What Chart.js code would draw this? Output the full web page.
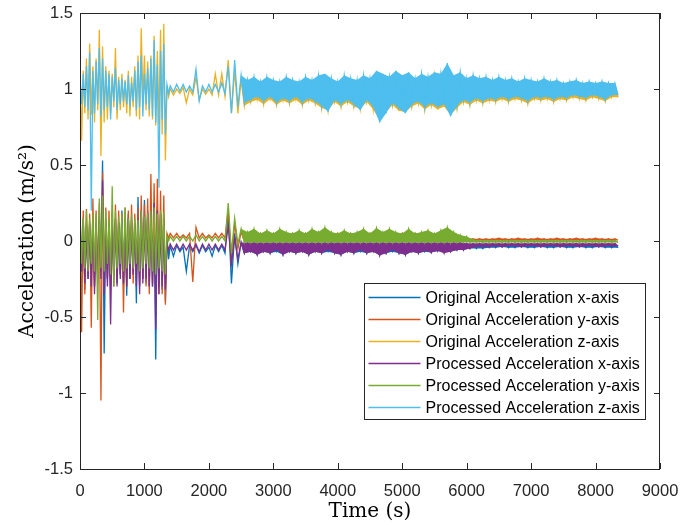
<!DOCTYPE html>
<html>
<head>
<meta charset="utf-8">
<script src="https://cdn.jsdelivr.net/npm/chart.js@4.4.1/dist/chart.umd.min.js"></script>
<style>
  html, body { margin: 0; padding: 0; background: #fff; }
  #wrap { width: 681px; height: 525px; }
</style>
</head>
<body>
<div id="wrap"><canvas id="chart" width="681" height="525"></canvas></div>
<script>
// time bins (s): 50 s bins over the busy start, 100 s after that
const binStart = [];
for (let t = 0; t < 1400; t += 50) binStart.push(t);
for (let t = 1400; t <= 8300; t += 100) binStart.push(t);

const xTicks = [0, 1000, 2000, 3000, 4000, 5000, 6000, 7000, 8000, 9000];
const yTicks = [-1.5, -1, -0.5, 0, 0.5, 1, 1.5];

const seriesLabels = [
  'Original Acceleration x-axis',
  'Original Acceleration y-axis',
  'Original Acceleration z-axis',
  'Processed Acceleration x-axis',
  'Processed Acceleration y-axis',
  'Processed Acceleration z-axis',
];
const seriesColors = ['#0072BD', '#D95319', '#EDB120', '#7E2F8E', '#77AC30', '#4DBEEE'];

// per bin max / min (m/s^2)
const origXHi = [
  0.18,0.15,0.12,0.10,0.14,0.12,0.20,0.53,0.15,0.12,0.10,0.14,0.12,0.20,0.15,0.18,0.14,0.12,0.29,0.18,0.27,0.20,0.16,0.18,0.22,0.18,0.15,0.02,
  -0.03,-0.03,-0.04,-0.03,-0.03,-0.03,-0.04,-0.03,-0.03,0.20,
  0.05,-0.01,-0.02,-0.015,-0.02,-0.02,-0.015,-0.02,-0.02,-0.015,
  -0.02,-0.015,-0.02,-0.02,-0.015,-0.02,-0.02,-0.015,-0.02,-0.02,
  -0.015,-0.02,-0.02,-0.015,-0.02,-0.02,-0.015,-0.02,-0.02,-0.015,
  -0.02,-0.015,-0.02,-0.015,-0.02,-0.02,-0.02,-0.02,-0.02,-0.02,
  -0.02,-0.02,-0.025,-0.02,-0.02,-0.025,-0.02,-0.02,-0.02,-0.025,
  -0.02,-0.02,-0.025,-0.02,-0.02,-0.025,-0.02,-0.02,-0.02,-0.025];
const origXLo = [
  -0.20,-0.32,-0.25,-0.22,-0.30,-0.25,-0.20,-0.74,-0.25,-0.30,-0.20,-0.28,-0.22,-0.30,-0.36,-0.25,-0.22,-0.41,-0.30,-0.25,-0.28,-0.30,-0.30,-0.78,-0.30,-0.32,-0.40,-0.12,
  -0.10,-0.07,-0.20,-0.07,-0.08,-0.07,-0.10,-0.07,-0.08,-0.28,
  -0.15,-0.08,-0.07,-0.09,-0.07,-0.08,-0.07,-0.09,-0.07,-0.08,
  -0.07,-0.09,-0.07,-0.08,-0.07,-0.08,-0.09,-0.07,-0.08,-0.07,
  -0.08,-0.07,-0.09,-0.08,-0.07,-0.08,-0.09,-0.07,-0.08,-0.07,
  -0.075,-0.065,-0.07,-0.07,-0.06,-0.06,-0.05,-0.05,-0.05,-0.045,
  -0.045,-0.04,-0.045,-0.045,-0.04,-0.045,-0.045,-0.04,-0.045,-0.045,
  -0.04,-0.045,-0.045,-0.04,-0.045,-0.045,-0.04,-0.045,-0.045,-0.045];

const origYHi = [
  0.36,0.20,0.21,0.18,0.28,0.20,0.25,0.45,0.22,0.20,0.18,0.24,0.20,0.18,0.22,0.20,0.24,0.18,0.22,0.30,0.24,0.28,0.44,0.38,0.41,0.33,0.30,0.05,
  0.05,0.05,0.04,0.05,0.09,0.05,0.04,0.05,0.05,0.20,
  0.12,0.06,0.05,0.05,0.05,0.05,0.05,0.05,0.05,0.05,
  0.05,0.05,0.05,0.05,0.05,0.05,0.05,0.05,0.05,0.05,
  0.05,0.05,0.05,0.05,0.05,0.05,0.05,0.05,0.05,0.05,
  0.04,0.04,0.04,0.05,0.04,0.03,0.02,0.015,0.015,0.015,
  0.015,0.02,0.015,0.015,0.02,0.015,0.015,0.02,0.015,0.015,
  0.02,0.015,0.015,0.02,0.015,0.015,0.02,0.015,0.015,0.015];
const origYLo = [
  -0.60,-0.35,-0.20,-0.57,-0.30,-0.25,-1.05,-0.30,-0.25,-0.28,-0.30,-0.25,-0.22,-0.47,-0.30,-0.25,-0.28,-0.22,-0.29,-0.25,-0.30,-0.35,-0.28,-0.30,-0.35,-0.35,-0.42,0.02,
  0.02,0.02,0.02,-0.27,0.02,0.02,0.02,0.02,0.02,-0.15,
  -0.05,0.00,0.00,0.00,0.00,0.00,0.00,0.00,0.00,0.00,
  0.00,0.00,0.00,0.00,0.00,0.00,0.00,0.00,0.00,0.00,
  0.00,0.00,0.00,0.00,0.00,0.00,0.00,0.00,0.00,0.00,
  0.00,0.00,0.00,0.00,0.00,0.00,0.005,0.005,0.005,0.005,
  0.005,0.005,0.005,0.005,0.005,0.005,0.005,0.005,0.005,0.005,
  0.005,0.005,0.005,0.005,0.005,0.005,0.005,0.005,0.005,0.005];

const origZHi = [
  1.10,1.12,1.20,1.30,1.15,1.20,1.39,1.28,1.15,1.12,1.10,1.27,1.08,1.10,1.06,1.12,1.08,1.15,1.22,1.40,1.22,1.18,1.22,1.35,1.25,1.39,1.43,1.02,
  1.00,1.00,1.01,1.00,1.08,1.00,1.00,1.10,1.10,1.19,
  1.12,1.06,1.04,1.06,1.03,1.06,1.04,1.03,1.06,1.04,
  1.03,1.06,1.04,1.07,1.08,1.05,1.03,1.07,1.05,1.04,
  1.07,1.05,1.10,1.08,1.06,1.10,1.07,1.09,1.05,1.08,
  1.06,1.09,1.08,1.14,1.07,1.09,1.05,1.07,1.05,1.06,
  1.04,1.06,1.04,1.05,1.03,1.05,1.04,1.03,1.05,1.03,
  1.04,1.02,1.03,1.04,1.02,1.03,1.02,1.03,1.02,1.02];
const origZLo = [
  0.66,0.84,0.80,0.83,0.78,0.86,0.56,0.78,0.80,0.84,0.88,0.80,0.86,0.88,0.84,0.82,0.88,0.82,0.80,0.92,0.86,0.82,0.80,0.76,0.77,0.70,0.53,0.95,
  0.96,0.97,0.91,0.96,0.93,0.965,0.96,0.96,0.95,0.84,
  0.84,0.89,0.915,0.93,0.90,0.935,0.895,0.925,0.905,0.93,
  0.895,0.925,0.905,0.875,0.86,0.915,0.885,0.915,0.885,0.87,
  0.915,0.865,0.80,0.85,0.895,0.855,0.85,0.885,0.905,0.865,
  0.895,0.865,0.885,0.83,0.875,0.915,0.895,0.925,0.905,0.925,
  0.915,0.935,0.915,0.935,0.925,0.905,0.935,0.925,0.935,0.915,
  0.935,0.925,0.945,0.935,0.925,0.945,0.935,0.92,0.945,0.945];

const procXHi = [
  0.15,0.12,0.10,0.12,0.14,0.12,0.15,0.40,0.12,0.10,0.12,0.15,0.12,0.14,0.12,0.15,0.12,0.10,0.15,0.20,0.15,0.18,0.20,0.25,0.20,0.18,0.15,-0.02,
  -0.02,-0.02,-0.02,-0.02,-0.02,-0.02,-0.02,-0.02,-0.02,0.10,
  0.02,-0.01,-0.01,-0.01,-0.01,-0.01,-0.01,-0.01,-0.01,-0.01,
  -0.01,-0.01,-0.01,-0.01,-0.01,-0.01,-0.01,-0.01,-0.01,-0.01,
  -0.01,-0.01,-0.01,-0.01,-0.01,-0.01,-0.01,-0.01,-0.01,-0.01,
  -0.01,-0.01,-0.01,-0.01,-0.01,-0.01,-0.015,-0.015,-0.015,-0.015,
  -0.015,-0.015,-0.015,-0.015,-0.015,-0.015,-0.015,-0.015,-0.015,-0.015,
  -0.015,-0.015,-0.015,-0.015,-0.015,-0.015,-0.015,-0.015,-0.015,-0.015];
const procXLo = [
  -0.20,-0.28,-0.25,-0.30,-0.35,-0.28,-0.25,-0.35,-0.30,-0.55,-0.25,-0.30,-0.25,-0.28,-0.30,-0.25,-0.22,-0.30,-0.35,-0.28,-0.25,-0.30,-0.30,-0.58,-0.35,-0.30,-0.32,-0.06,
  -0.06,-0.06,-0.06,-0.06,-0.07,-0.06,-0.06,-0.06,-0.06,-0.15,
  -0.12,-0.08,-0.07,-0.09,-0.07,-0.08,-0.06,-0.09,-0.07,-0.08,
  -0.07,-0.09,-0.07,-0.08,-0.06,-0.08,-0.09,-0.07,-0.08,-0.06,
  -0.08,-0.07,-0.095,-0.08,-0.06,-0.08,-0.09,-0.07,-0.08,-0.065,
  -0.075,-0.065,-0.08,-0.07,-0.06,-0.06,-0.05,-0.04,-0.04,-0.04,
  -0.035,-0.04,-0.035,-0.035,-0.04,-0.035,-0.035,-0.04,-0.035,-0.035,
  -0.04,-0.035,-0.035,-0.04,-0.035,-0.035,-0.04,-0.035,-0.035,-0.035];

const procYHi = [
  0.18,0.15,0.20,0.15,0.18,0.18,0.28,0.30,0.20,0.15,0.36,0.20,0.16,0.18,0.22,0.15,0.18,0.15,0.14,0.20,0.16,0.18,0.20,0.22,0.18,0.20,0.19,0.03,
  0.03,0.03,0.03,0.03,0.04,0.03,0.03,0.03,0.03,0.25,
  0.15,0.08,0.06,0.08,0.05,0.07,0.05,0.08,0.06,0.05,
  0.07,0.05,0.08,0.06,0.09,0.06,0.05,0.07,0.05,0.06,
  0.08,0.05,0.085,0.06,0.08,0.06,0.05,0.08,0.05,0.06,
  0.07,0.05,0.07,0.09,0.06,0.04,0.03,0.01,0.005,0.005,
  0.005,0.005,0.005,0.005,0.005,0.005,0.005,0.005,0.005,0.005,
  0.005,0.005,0.005,0.005,0.005,0.005,0.005,0.005,0.005,0.005];
const procYLo = [
  -0.15,-0.18,-0.20,-0.15,-0.20,-0.52,-0.18,-0.20,-0.15,-0.22,-0.30,-0.18,-0.15,-0.20,-0.18,-0.15,-0.18,-0.15,-0.20,-0.18,-0.15,-0.18,-0.20,-0.22,-0.18,-0.20,-0.22,0.00,
  0.00,0.00,0.00,0.00,0.00,0.00,0.00,0.00,0.00,-0.08,
  -0.02,-0.01,-0.01,-0.01,-0.01,-0.01,-0.01,-0.01,-0.01,-0.01,
  -0.01,-0.01,-0.01,-0.01,-0.01,-0.01,-0.01,-0.01,-0.01,-0.01,
  -0.01,-0.01,-0.01,-0.01,-0.01,-0.01,-0.01,-0.01,-0.01,-0.01,
  -0.01,-0.01,-0.01,-0.01,-0.01,-0.01,-0.01,-0.01,-0.01,-0.01,
  -0.01,-0.01,-0.01,-0.01,-0.01,-0.01,-0.01,-0.01,-0.01,-0.01,
  -0.01,-0.01,-0.01,-0.01,-0.01,-0.01,-0.01,-0.01,-0.01,-0.01];

const procZHi = [
  1.08,1.10,1.15,1.24,1.12,1.18,1.27,1.20,1.12,1.10,1.08,1.14,1.06,1.07,1.05,1.09,1.04,1.12,1.18,1.22,1.10,1.14,1.20,1.32,1.16,1.25,1.30,1.03,
  1.02,1.03,1.03,1.02,1.13,1.02,1.03,1.03,1.04,1.15,
  1.19,1.09,1.06,1.08,1.05,1.08,1.06,1.05,1.08,1.06,
  1.05,1.08,1.06,1.09,1.10,1.07,1.05,1.09,1.07,1.06,
  1.09,1.07,1.12,1.10,1.08,1.12,1.09,1.11,1.07,1.10,
  1.08,1.11,1.10,1.17,1.09,1.11,1.07,1.09,1.07,1.08,
  1.06,1.08,1.06,1.07,1.05,1.07,1.06,1.05,1.07,1.05,
  1.06,1.04,1.05,1.06,1.04,1.05,1.04,1.05,1.04,1.04];
const procZLo = [
  0.90,0.88,0.86,0.20,0.84,0.90,0.82,0.86,0.88,0.80,0.92,0.86,0.90,0.92,0.90,0.88,0.92,0.86,0.88,0.82,0.90,0.86,0.82,0.78,0.35,0.80,0.70,0.97,
  0.98,0.985,0.98,0.98,0.92,0.98,0.98,0.98,0.97,0.84,
  0.88,0.91,0.93,0.95,0.92,0.95,0.91,0.94,0.92,0.95,
  0.91,0.94,0.92,0.89,0.85,0.93,0.90,0.93,0.90,0.86,
  0.93,0.88,0.78,0.84,0.91,0.87,0.84,0.90,0.92,0.88,
  0.91,0.88,0.90,0.82,0.89,0.93,0.91,0.94,0.92,0.94,
  0.93,0.95,0.93,0.95,0.94,0.92,0.95,0.94,0.95,0.93,
  0.95,0.94,0.96,0.95,0.94,0.96,0.95,0.93,0.96,0.96];

const seriesHi = [origXHi, origYHi, origZHi, procXHi, procYHi, procZHi];
const seriesLo = [origXLo, origYLo, origZLo, procXLo, procYLo, procZLo];

const binWidth = i => (binStart[i + 1] ?? binStart[i] + 100) - binStart[i];

// each bin gives its max at the bin start and its min half a bin later
function binPoints(hi, lo) {
  const pts = [];
  binStart.forEach((t, i) => {
    pts.push({ x: t, y: hi[i] });
    pts.push({ x: t + binWidth(i) / 2, y: lo[i] });
  });
  return pts;
}

// closed max/min envelope for the dense part of the record
const bandFrom = binStart.indexOf(2500);
function bandShape(hi, lo) {
  const pts = [];
  for (let i = bandFrom; i < binStart.length; i++) pts.push({ x: binStart[i], y: hi[i] });
  for (let i = binStart.length - 1; i >= bandFrom; i--) pts.push({ x: binStart[i] + binWidth(i) / 2, y: lo[i] });
  return pts;
}

const axisColor = '#262626';

const boxFrame = {
  id: 'boxFrame',
  afterDraw(chart) {
    const { ctx, chartArea: a, scales } = chart;
    const tick = 6;
    ctx.save();
    ctx.strokeStyle = axisColor;
    ctx.lineWidth = 1;
    ctx.beginPath();
    ctx.rect(a.left + 0.5, a.top + 0.5, a.right - a.left - 1, a.bottom - a.top);
    xTicks.forEach(v => {
      const px = Math.round(scales.x.getPixelForValue(v)) + 0.5;
      ctx.moveTo(px, a.bottom); ctx.lineTo(px, a.bottom - tick);
      ctx.moveTo(px, a.top); ctx.lineTo(px, a.top + tick);
    });
    yTicks.forEach(v => {
      const py = Math.round(scales.y.getPixelForValue(v)) + 0.5;
      ctx.moveTo(a.left, py); ctx.lineTo(a.left + tick, py);
      ctx.moveTo(a.right, py); ctx.lineTo(a.right - tick, py);
    });
    ctx.stroke();
    ctx.restore();
  }
};

const insideLegend = {
  id: 'insideLegend',
  afterDraw(chart) {
    const { ctx, chartArea: a } = chart;
    const w = 281, h = 136;
    const left = a.right - 15.5 - w;
    const top = a.bottom - 50 - h;
    ctx.save();
    ctx.fillStyle = '#fff';
    ctx.fillRect(left, top, w, h);
    ctx.strokeStyle = axisColor;
    ctx.lineWidth = 1;
    ctx.strokeRect(Math.round(left) + 0.5, Math.round(top) + 0.5, w, h);
    ctx.font = '16px "Liberation Sans", Arial, sans-serif';
    ctx.textBaseline = 'middle';
    seriesLabels.forEach((label, i) => {
      const y = top + 14.5 + i * 22;
      ctx.strokeStyle = seriesColors[i];
      ctx.lineWidth = 1.3;
      ctx.beginPath();
      ctx.moveTo(left + 5, y);
      ctx.lineTo(left + 57, y);
      ctx.stroke();
      ctx.fillStyle = '#000';
      ctx.fillText(label, left + 62, y + 1);
    });
    ctx.restore();
  }
};

// drawing sequence: band then trace for each series, processed z last (on top)
const datasets = [];
seriesLabels.forEach((label, i) => {
  datasets.push({
    label: label + ' band',
    data: bandShape(seriesHi[i], seriesLo[i]),
    borderWidth: 0,
    borderColor: 'rgba(0,0,0,0)',
    backgroundColor: seriesColors[i],
    fill: 'shape',
    pointRadius: 0,
    tension: 0,
  });
  datasets.push({
    label,
    data: binPoints(seriesHi[i], seriesLo[i]),
    borderColor: seriesColors[i],
    borderWidth: 1.3,
    pointRadius: 0,
    tension: 0,
    fill: false,
  });
});
// Chart.js paints the highest order first
datasets.forEach((ds, k) => { ds.order = datasets.length - k; });

const tickFont = { family: '"Liberation Sans", Arial, sans-serif', size: 16.5 };
const titleFont = { family: '"DejaVu Serif", serif', size: 20 };

new Chart(document.getElementById('chart'), {
  type: 'line',
  data: { datasets },
  options: {
    responsive: false,
    animation: false,
    events: [],
    layout: { padding: { top: 13, right: 21, left: 0, bottom: 0 } },
    plugins: {
      legend: { display: false },
      tooltip: { enabled: false },
      filler: { propagate: false },
    },
    scales: {
      x: {
        type: 'linear',
        min: 0,
        max: 9000,
        afterFit: s => { s.height = 56; s.paddingLeft = 0; s.paddingRight = 0; },
        afterBuildTicks: s => { s.ticks = xTicks.map(v => ({ value: v })); },
        grid: { display: false, drawTicks: false },
        border: { display: false },
        ticks: {
          padding: 13,
          color: axisColor,
          font: tickFont,
          callback: v => String(v),
          maxRotation: 0,
        },
        title: {
          display: true,
          text: 'Time (s)',
          color: '#000',
          font: titleFont,
          padding: { top: 0, bottom: 1 },
        },
      },
      y: {
        type: 'linear',
        min: -1.5,
        max: 1.5,
        afterFit: s => { s.width = 80; s.paddingTop = 0; s.paddingBottom = 0; },
        afterBuildTicks: s => { s.ticks = yTicks.map(v => ({ value: v })); },
        grid: { display: false, drawTicks: false },
        border: { display: false },
        ticks: {
          padding: 7,
          color: axisColor,
          font: tickFont,
          callback: v => String(v),
        },
        title: {
          display: true,
          text: 'Acceleration (m/s²)',
          color: '#000',
          font: titleFont,
          padding: { top: 16, bottom: 0 },
        },
      },
    },
  },
  plugins: [boxFrame, insideLegend],
});
</script>
</body>
</html>
